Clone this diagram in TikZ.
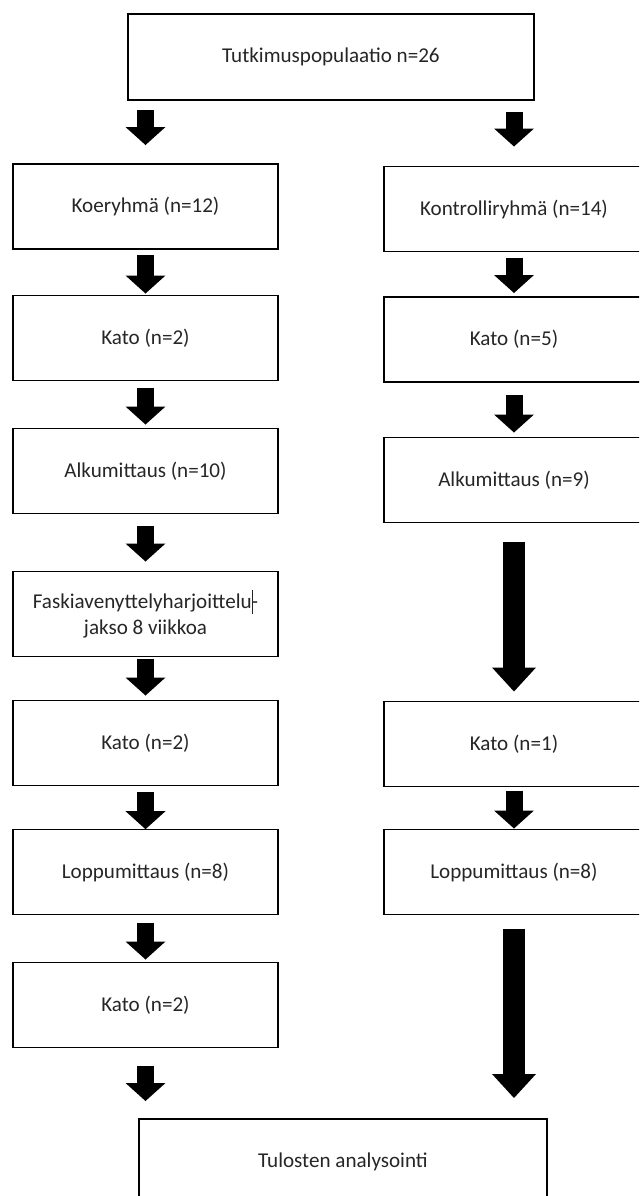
\documentclass[tikz,border=0pt]{standalone}
\usepackage{fontspec}
\setmainfont{Carlito}
\usetikzlibrary{arrows.meta}

\tikzset{
  box/.style={draw, line width=1.5pt, inner sep=0pt, outer sep=0pt, align=center,
    font=\fontsize{18pt}{22pt}\selectfont, text=black!85},
  leftbox/.style={box, minimum width=7.95cm, minimum height=2.55cm},
  rightbox/.style={box, minimum width=7.8cm, minimum height=2.55cm},
  blk/.style={line width=0.51cm, -{Triangle[width=1.2cm,length=0.54cm,line width=0pt]}},
  blklong/.style={line width=0.64cm, -{Triangle[width=1.32cm,length=0.72cm,line width=0pt]}}
}

\begin{document}
\begin{tikzpicture}[x=0.03cm,y=-0.03cm]
        \clip (0,0) rectangle (639,1196);
        \node[box, minimum width=12.18cm, minimum height=2.6cm] (popu) at (331,57) {Tutkimuspopulaatio n=26};
        \node[leftbox] (koe) at (145.5,206.5) {Koeryhmä (n=12)};
        \node[rightbox] (kontr) at (514,209) {Kontrolliryhmä (n=14)};
        \node[leftbox] (koekato1) at (145.5,338) {Kato (n=2)};
        \node[rightbox] (kontrkato1) at (514,339.5) {Kato (n=5)};
        \node[leftbox] (koealku) at (145.5,471) {Alkumittaus (n=10)};
        \node[rightbox] (kontralku) at (514,480) {Alkumittaus (n=9)};
        \node[leftbox] (harj) at (145.5,614)
            {Faskiavenyttelyharjoittelu\rule[-0.25em]{0.07em}{1.15em}\kern-0.07em-\\jakso 8 viikkoa};
        \node[leftbox] (koekato2) at (145.5,743) {Kato (n=2)};
        \node[rightbox] (kontrkato2) at (514,744) {Kato (n=1)};
        \node[leftbox] (koeloppu) at (145.5,872) {Loppumittaus (n=8)};
        \node[rightbox] (kontrloppu) at (514,872) {Loppumittaus (n=8)};
        \node[leftbox] (koekato3) at (145.5,1005) {Kato (n=2)};
        \node[box, minimum width=12.24cm, minimum height=2.55cm] (tulos) at (343,1161.5) {Tulosten analysointi};
        % koeryhmä
        \draw[blk, shorten <=0.3cm, shorten >=0.57cm] (popu.south -| koe.north) -- (koe.north);
        \draw[blk, shorten <=0.18cm, shorten >=0.06cm] (koe) -- (koekato1);
        \draw[blk, shorten <=0.21cm, shorten >=0.12cm] (koekato1) -- (koealku);
        \draw[blk, shorten <=0.36cm, shorten >=0.3cm] (koealku) -- (harj);
        \draw[blk, shorten <=0.06cm, shorten >=0.15cm] (harj) -- (koekato2);
        \draw[blk, shorten <=0.18cm, shorten >=0.01cm] (koekato2) -- (koeloppu);
        \draw[blk, shorten <=0.24cm, shorten >=0.09cm] (koeloppu) -- (koekato3);
        \draw[blk, shorten <=0.54cm, shorten >=0.54cm] (koekato3) -- (koekato3.south |- tulos.north);
        % kontrolliryhmä
        \draw[blk, shorten <=0.36cm, shorten >=0.6cm] (popu.south -| kontr.north) -- (kontr.north);
        \draw[blk, shorten <=0.18cm, shorten >=0.12cm] (kontr) -- (kontrkato1);
        \draw[blk, shorten <=0.39cm, shorten >=0.15cm] (kontrkato1) -- (kontralku);
        \draw[blklong, shorten <=0.57cm, shorten >=0.3cm] (kontralku) -- (kontrkato2);
        \draw[blk, shorten <=0.12cm, shorten >=0.03cm] (kontrkato2) -- (kontrloppu);
        \draw[blklong, shorten <=0.42cm, shorten >=0.63cm] (kontrloppu) -- (kontrloppu.south |- tulos.north);
\end{tikzpicture}
\end{document}
